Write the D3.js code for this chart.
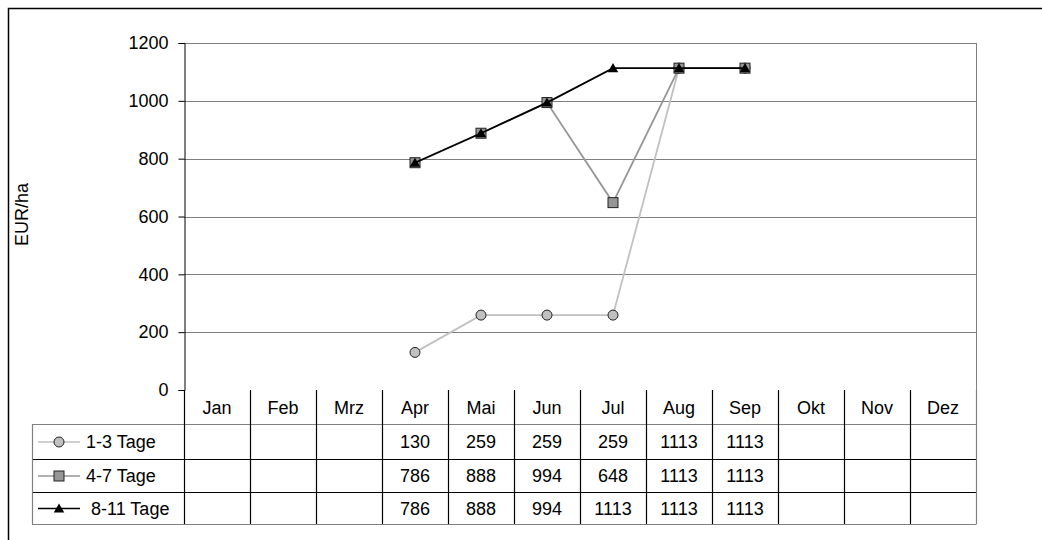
<!DOCTYPE html>
<html>
<head>
<meta charset="utf-8">
<script src="https://cdn.jsdelivr.net/npm/d3@7/dist/d3.min.js"></script>
<style>
  html, body { margin: 0; padding: 0; background: #fff; }
  svg { display: block; }
  text { font-family: "Liberation Sans", Arial, sans-serif; fill: #000; }
</style>
</head>
<body>
<svg id="chart" width="1042" height="540"></svg>
<script>
// Months shown along the category axis and in the data table
const months = ["Jan", "Feb", "Mrz", "Apr", "Mai", "Jun", "Jul", "Aug", "Sep", "Okt", "Nov", "Dez"];

// Series names
const seriesNames = ["1-3 Tage", "4-7 Tage", "8-11 Tage"];

// Values in EUR/ha per month (null = no value)
const tage1_3  = [null, null, null, 130, 259, 259, 259, 1113, 1113, null, null, null];
const tage4_7  = [null, null, null, 786, 888, 994, 648, 1113, 1113, null, null, null];
const tage8_11 = [null, null, null, 786, 888, 994, 1113, 1113, 1113, null, null, null];

// Y axis ticks
const yTicks = [0, 200, 400, 600, 800, 1000, 1200];

const FONT = "18px";

const series = [
  { name: seriesNames[0], values: tage1_3,  line: "#c0c0c0", fill: "#c0c0c0", marker: "circle" },
  { name: seriesNames[1], values: tage4_7,  line: "#969696", fill: "#969696", marker: "square" },
  { name: seriesNames[2], values: tage8_11, line: "#000000", fill: "#000000", marker: "triangle" }
];

const svg = d3.select("#chart");

const plot = { left: 184, right: 976, top: 43, bottom: 390 };
const tableLeft = 32;
const rowEdges = [390, 424, 459, 492, 524];

const x = d3.scaleBand().domain(months).range([plot.left, plot.right]).padding(0);
const y = d3.scaleLinear().domain([0, 1200]).range([plot.bottom, plot.top]);

// Outer chart frame
svg.append("rect")
  .attr("x", 8.5).attr("y", 8.5)
  .attr("width", 1045).attr("height", 545)
  .attr("fill", "#fff").attr("stroke", "#000").attr("stroke-width", 1.5);

// Horizontal gridlines
svg.append("g").selectAll("line")
  .data(yTicks.filter(d => d > 0))
  .join("line")
  .attr("x1", plot.left).attr("x2", plot.right)
  .attr("y1", d => Math.round(y(d)) + 0.5).attr("y2", d => Math.round(y(d)) + 0.5)
  .attr("stroke", "#808080").attr("stroke-width", 1);

// Right edge of the plot area
svg.append("line")
  .attr("x1", plot.right + 0.5).attr("x2", plot.right + 0.5)
  .attr("y1", plot.top).attr("y2", plot.bottom)
  .attr("stroke", "#808080");

// Value axis
const yAxis = d3.axisLeft(y).tickValues(yTicks).tickFormat(d3.format("d")).tickSize(6).tickPadding(10);
const yAxisG = svg.append("g")
  .attr("transform", `translate(${plot.left + 0.5},0)`)
  .call(yAxis);
yAxisG.attr("font-size", null).attr("font-family", null);
yAxisG.select(".domain").attr("stroke", "#000");
yAxisG.selectAll(".tick line").attr("stroke", "#000");
yAxisG.selectAll(".tick text")
  .style("font-size", FONT).attr("fill", "#000");

// Axis title
svg.append("text")
  .attr("transform", `translate(28,${(plot.top + plot.bottom) / 2 - 2}) rotate(-90)`)
  .attr("text-anchor", "middle")
  .style("font-size", FONT)
  .text("EUR/ha");

// Data table
const table = svg.append("g");
const colEdges = months.map(m => x(m)).concat([plot.right]);

// Row separators
rowEdges.slice(1).forEach((ry, i) => {
  table.append("line")
    .attr("x1", tableLeft).attr("x2", plot.right + 0.5)
    .attr("y1", ry + 0.5).attr("y2", ry + 0.5)
    .attr("stroke", i === 0 || i === rowEdges.length - 2 ? "#808080" : "#000")
    .attr("stroke-width", 1.2);
});
// Column separators
colEdges.forEach((cx, i) => {
  table.append("line")
    .attr("x1", Math.round(cx) + 0.5).attr("x2", Math.round(cx) + 0.5)
    .attr("y1", rowEdges[0]).attr("y2", rowEdges[rowEdges.length - 1])
    .attr("stroke", i === colEdges.length - 1 ? "#808080" : "#000")
    .attr("stroke-width", 1.2);
});
// Left edge of the legend column
table.append("line")
  .attr("x1", tableLeft + 0.5).attr("x2", tableLeft + 0.5)
  .attr("y1", rowEdges[1]).attr("y2", rowEdges[rowEdges.length - 1])
  .attr("stroke", "#808080").attr("stroke-width", 1.2);

// Month headers
table.selectAll("text.month")
  .data(months)
  .join("text")
  .attr("class", "month")
  .attr("x", d => x(d) + x.bandwidth() / 2)
  .attr("y", (rowEdges[0] + rowEdges[1]) / 2 + 6.5)
  .attr("text-anchor", "middle")
  .style("font-size", FONT)
  .text(d => d);

// Marker shapes
function drawMarker(g, type, cx, cy, fill) {
  if (type === "circle") {
    g.append("circle").attr("cx", cx).attr("cy", cy).attr("r", 5)
      .attr("fill", fill).attr("stroke", "#222").attr("stroke-width", 1);
  } else if (type === "square") {
    g.append("rect").attr("x", cx - 5).attr("y", cy - 5).attr("width", 10).attr("height", 10)
      .attr("fill", fill).attr("stroke", "#222").attr("stroke-width", 1);
  } else {
    g.append("path")
      .attr("d", d3.symbol(d3.symbolTriangle, 48)())
      .attr("transform", `translate(${cx},${cy + 1})`)
      .attr("fill", fill).attr("stroke", "none");
  }
}

// Series rows: legend key + values
series.forEach((s, i) => {
  const top = rowEdges[i + 1], bottom = rowEdges[i + 2];
  const cy = (top + bottom) / 2;
  const rowG = table.append("g");
  rowG.append("line")
    .attr("x1", 38).attr("x2", 80).attr("y1", cy + 0.5).attr("y2", cy + 0.5)
    .attr("stroke", s.line).attr("stroke-width", 1.5);
  drawMarker(rowG, s.marker, 59, cy + 0.5, s.fill);
  rowG.append("text")
    .attr("x", i === 2 ? 91 : 86).attr("y", cy + 6.5)
    .style("font-size", FONT)
    .text(s.name);
  rowG.selectAll("text.val")
    .data(s.values.map((v, j) => ({ v, m: months[j] })).filter(d => d.v !== null))
    .join("text")
    .attr("class", "val")
    .attr("x", d => x(d.m) + x.bandwidth() / 2)
    .attr("y", cy + 6.5)
    .attr("text-anchor", "middle")
    .style("font-size", FONT)
    .text(d => d.v);
});

// Lines and markers
const lineGen = d3.line()
  .defined(d => d.v !== null)
  .x(d => x(d.m) + x.bandwidth() / 2)
  .y(d => y(d.v));

series.forEach(s => {
  const pts = s.values.map((v, j) => ({ v, m: months[j] }));
  const g = svg.append("g");
  g.append("path")
    .datum(pts)
    .attr("d", lineGen)
    .attr("fill", "none")
    .attr("stroke", s.line)
    .attr("stroke-width", 1.8);
  pts.filter(d => d.v !== null).forEach(d => {
    drawMarker(g, s.marker, x(d.m) + x.bandwidth() / 2, y(d.v), s.fill);
  });
});
</script>
</body>
</html>
